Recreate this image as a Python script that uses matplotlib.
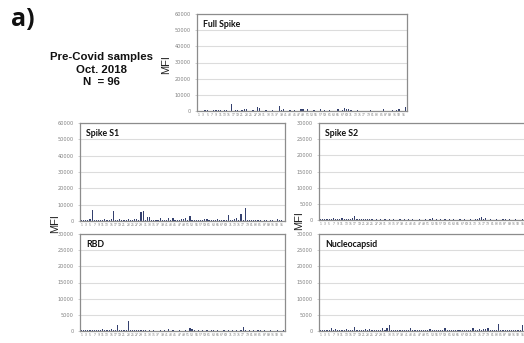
import numpy as np
import matplotlib
matplotlib.use('Agg')
import matplotlib.pyplot as plt

W, H = 524, 343

samples = np.arange(1, 97)

full_spike = [0, 300, 200, 500, 800, 300, 200, 500, 400, 600, 500, 300,
              600, 400, 300, 4500, 200, 500, 400, 300, 600, 1200, 1500, 300,
              200, 500, 300, 2500, 2000, 300, 200, 400, 300, 200, 500, 300,
              200, 2800, 800, 1000, 300, 200, 500, 300, 400, 200, 300, 1500,
              1000, 300, 1200, 200, 300, 600, 200, 300, 1000, 200, 400, 300,
              800, 200, 300, 300, 1000, 200, 400, 2000, 1500, 1500, 800, 300,
              200, 500, 200, 300, 200, 300, 200, 400, 200, 300, 200, 300,
              200, 1200, 300, 200, 300, 600, 200, 800, 1000, 300, 200, 2500]

spike_s1 = [500, 600, 700, 800, 1500, 7000, 900, 600, 700, 500, 800, 1500,
            600, 700, 1500, 6300, 500, 600, 1200, 500, 400, 600, 1000, 400,
            500, 1500, 1200, 600, 5500, 6300, 500, 2200, 2200, 700, 500, 600,
            500, 1800, 400, 500, 600, 2000, 700, 1800, 500, 400, 600, 1500,
            1200, 1800, 700, 3000, 600, 500, 400, 600, 500, 400, 1500, 1200,
            500, 600, 400, 700, 1500, 600, 500, 400, 600, 3500, 500, 400,
            1500, 1800, 600, 4000, 500, 7800, 600, 500, 400, 600, 500, 400,
            500, 300, 400, 500, 300, 400, 500, 300, 1200, 800, 400, 300]

spike_s2 = [200, 300, 200, 400, 300, 200, 500, 300, 400, 200, 500, 300,
            400, 200, 300, 600, 1200, 300, 200, 400, 200, 300, 200, 400,
            200, 100, 200, 100, 200, 100, 200, 100, 200, 100, 200, 100,
            100, 200, 100, 300, 100, 200, 100, 200, 100, 100, 200, 100,
            100, 200, 100, 200, 500, 100, 200, 100, 200, 100, 300, 100,
            200, 100, 200, 100, 100, 200, 100, 200, 100, 100, 200, 100,
            200, 300, 600, 800, 200, 600, 100, 200, 100, 100, 200, 100,
            100, 200, 300, 100, 200, 100, 100, 200, 100, 100, 200, 100]

rbd = [200, 300, 200, 300, 200, 300, 400, 300, 200, 400, 500, 300,
       400, 300, 500, 400, 300, 1800, 200, 300, 200, 200, 3100, 400,
       200, 400, 200, 300, 200, 400, 200, 100, 200, 100, 200, 100,
       100, 200, 100, 200, 100, 500, 100, 200, 100, 100, 200, 100,
       100, 200, 100, 1000, 600, 200, 100, 200, 100, 400, 100, 200,
       100, 200, 300, 100, 200, 100, 100, 200, 100, 200, 100, 300,
       100, 200, 100, 200, 1200, 300, 100, 200, 100, 400, 100, 200,
       400, 100, 200, 100, 100, 200, 100, 100, 200, 100, 100, 200]

nucleocapsid = [200, 300, 200, 400, 300, 1000, 300, 500, 200, 400, 300, 400,
                500, 300, 400, 300, 1200, 300, 200, 400, 300, 500, 400, 500,
                300, 200, 300, 400, 400, 800, 200, 1000, 2000, 300, 200, 300,
                200, 300, 400, 200, 300, 300, 1000, 300, 400, 300, 200, 400,
                300, 200, 400, 600, 300, 200, 400, 300, 200, 400, 900, 300,
                400, 200, 300, 400, 200, 300, 400, 200, 300, 200, 400, 1000,
                300, 400, 500, 400, 600, 700, 800, 300, 200, 400, 300, 2300,
                200, 300, 300, 200, 400, 300, 200, 300, 400, 200, 1800, 2600]

fig = plt.figure(figsize=(W / 100, H / 100), dpi=100)
fig.patch.set_facecolor('white')


def px_axes(left, top, right, bottom):
    return fig.add_axes([left / W, 1 - bottom / H, (right - left) / W, (bottom - top) / H])


def panel(ax, values, title, ymax, ystep):
    ax.bar(samples, values, width=0.55, color='#34406e', linewidth=0)
    ax.set_xlim(0.3, 96.7)
    ax.set_ylim(0, ymax)
    ax.set_yticks(np.arange(0, ymax + 1, ystep))
    ax.yaxis.grid(True, color='#dcdcdc', linewidth=0.8)
    ax.set_axisbelow(True)
    ax.set_xticks(samples[::2])
    ax.set_xticklabels([str(s) for s in samples[::2]], fontsize=2.2, color='#777777')
    ax.tick_params(axis='y', labelsize=3.6, labelcolor='#808080', length=1.5,
                   width=0.4, color='#aaaaaa', pad=3)
    ax.tick_params(axis='x', length=0, pad=1.5)
    for s in ax.spines.values():
        s.set_color('#8c8c8c')
        s.set_linewidth(0.9)
    ax.text(0.03, 0.89, title, transform=ax.transAxes, fontsize=6.3,
            fontweight='bold', family='Lato', color='#111111', va='center')


ax_full = px_axes(197, 14, 407, 111)
panel(ax_full, full_spike, 'Full Spike', 60000, 10000)

ax_s1 = px_axes(80, 123, 285, 221)
panel(ax_s1, spike_s1, 'Spike S1', 60000, 10000)

ax_s2 = px_axes(319, 123, 526, 220)
panel(ax_s2, spike_s2, 'Spike S2', 30000, 5000)

ax_rbd = px_axes(80, 234, 285, 331)
panel(ax_rbd, rbd, 'RBD', 30000, 5000)

ax_nc = px_axes(319, 234, 526, 331)
panel(ax_nc, nucleocapsid, 'Nucleocapsid', 30000, 5000)

# labels placed in figure pixels
def fig_text(x, y, s, **kw):
    fig.text(x / W, 1 - y / H, s, **kw)

fig_text(11, 19, 'a)', fontsize=18, fontweight='bold', family='Open Sans',
         va='center', ha='left', color='#111111')
for yy, line in [(57, 'Pre-Covid samples'), (70, 'Oct. 2018'), (82, 'N  = 96')]:
    fig_text(101, yy, line, fontsize=8.2, fontweight='bold', family='Liberation Sans',
             ha='center', va='center', color='#111111')

for (x, y) in [(166, 65), (55, 224), (299, 221)]:
    fig_text(x, y, 'MFI', fontsize=8, family='Liberation Sans', rotation=90,
             ha='center', va='center', color='#222222')

fig.savefig('out.png', dpi=100)
